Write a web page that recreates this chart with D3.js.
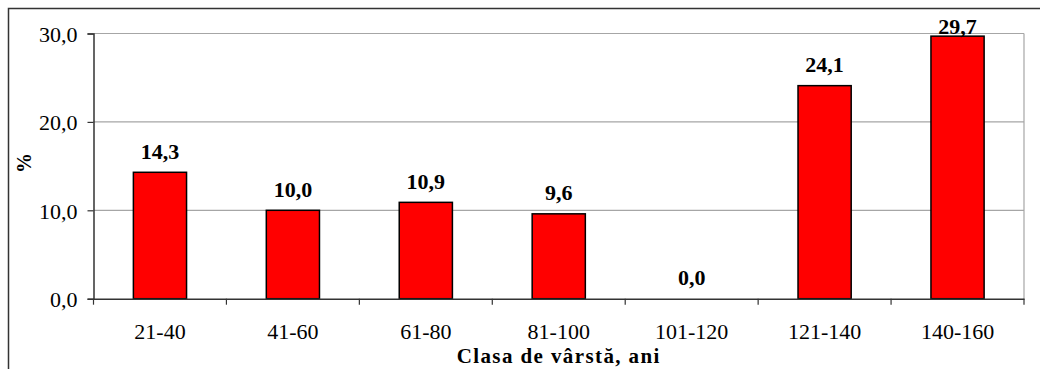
<!DOCTYPE html>
<html><head><meta charset="utf-8">
<script src="https://cdn.jsdelivr.net/npm/d3@7"></script>
<style>html,body{margin:0;padding:0;background:#fff;}svg{display:block;}
svg text{font-family:"Liberation Serif","Times New Roman",Times,serif !important;}</style>
</head><body>
<svg id="chart" width="1040" height="369"></svg>
<script>
const categories = ["21-40","41-60","61-80","81-100","101-120","121-140","140-160"];
const values = [14.3, 10.0, 10.9, 9.6, 0.0, 24.1, 29.7];
const yTicks = [0, 10, 20, 30];
const xTitle = "Clasa de vârstă, ani";
const yTitle = "%";

const svg = d3.select("#chart");
const L = 93.5, R = 1024, T = 33.5, B = 298.7;

// outer frame (extends past window)
svg.append("rect").attr("x",8.5).attr("y",8.5).attr("width",1200).attr("height",600)
  .attr("fill","none").attr("stroke","#333").attr("stroke-width",1.5);

const x = d3.scaleBand().domain(categories).range([L,R]).paddingInner(0).paddingOuter(0);
const y = d3.scaleLinear().domain([0,30]).range([B,T]);
const fmt = v => v.toFixed(1).replace(".", ",");

// gridlines
svg.append("g").selectAll("line").data(yTicks.filter(d=>d>0)).join("line")
  .attr("x1",L).attr("x2",R).attr("y1",d=>y(d)).attr("y2",d=>y(d))
  .attr("stroke","#a6a6a6").attr("stroke-width",1.2);
// right border
svg.append("line").attr("x1",R).attr("x2",R).attr("y1",T).attr("y2",B)
  .attr("stroke","#a6a6a6").attr("stroke-width",1.2);

// bars
const bw = x.bandwidth()*0.4;
svg.append("g").selectAll("rect").data(values).join("rect")
  .attr("x",(d,i)=>x(categories[i])+x.bandwidth()/2-bw/2)
  .attr("y",d=>y(d)).attr("width",bw).attr("height",d=>B-y(d))
  .attr("fill","#ff0000").attr("stroke","#000").attr("stroke-width",1.5);

// value labels
svg.append("g").selectAll("text").data(values).join("text")
  .attr("x",(d,i)=>x(categories[i])+x.bandwidth()/2)
  .attr("y",d=>Math.max(y(d)-13.5, T))
  .attr("text-anchor","middle").attr("font-weight","bold")
  .attr("font-size",22).attr("fill","#000").text(d=>fmt(d));

// y axis
const ya = svg.append("g").attr("transform",`translate(${L},0)`)
  .call(d3.axisLeft(y).tickValues(yTicks).tickSize(6).tickFormat(fmt));
ya.select(".domain").attr("stroke","#333").attr("stroke-width",1.5);
ya.selectAll(".tick line").attr("stroke","#333").attr("stroke-width",1.2);
ya.selectAll(".tick text").attr("font-size",22).attr("fill","#000")
  .attr("x",-16).attr("dy","0.36em");

// x axis
const xa = svg.append("g").attr("transform",`translate(0,${B})`)
  .call(d3.axisBottom(x).tickSize(0).tickSizeOuter(0));
xa.select(".domain").attr("stroke","#333").attr("stroke-width",1.5);
xa.selectAll(".tick line").remove();
xa.selectAll(".tick text").attr("font-size",22).attr("fill","#000")
  .attr("y",25).attr("dy","0.71em");
// boundary ticks
const bounds = categories.map(c=>x(c)).concat([R]);
svg.append("g").selectAll("line").data(bounds).join("line")
  .attr("x1",d=>d).attr("x2",d=>d).attr("y1",B).attr("y2",B+6)
  .attr("stroke","#333").attr("stroke-width",1.2);

// titles
svg.append("text").attr("x",(L+R)/2).attr("y",363).attr("text-anchor","middle")
  .attr("font-weight","bold").attr("font-size",21)
  .attr("letter-spacing",1.4).attr("fill","#000").text(xTitle);
svg.append("text").attr("transform","translate(31,163) rotate(-90)").attr("text-anchor","middle")
  .attr("font-weight","bold").attr("font-size",20)
  .attr("fill","#000").text(yTitle);
</script>
</body></html>
